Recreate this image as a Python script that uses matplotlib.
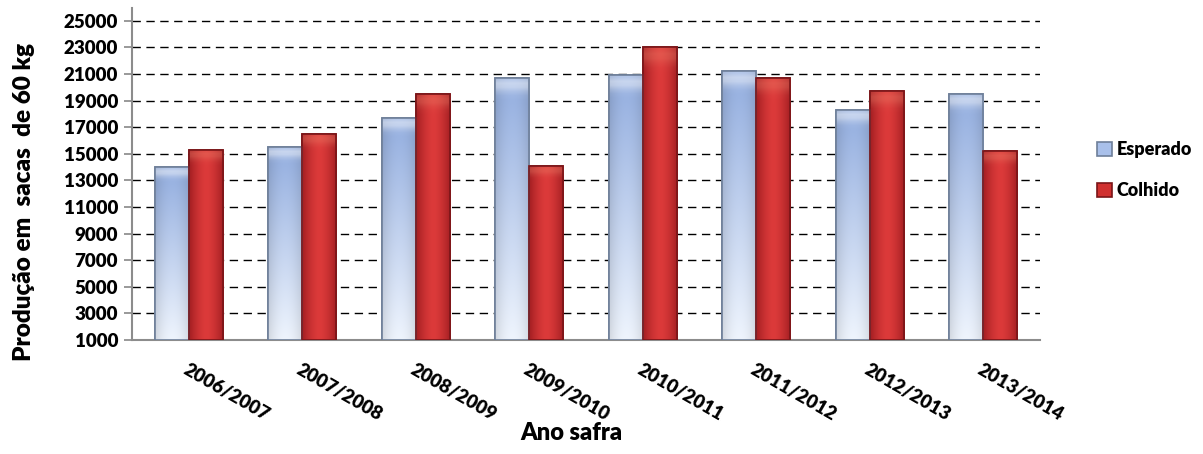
import numpy as np
import matplotlib
matplotlib.use("Agg")
import matplotlib.pyplot as plt
from matplotlib.colors import to_rgb
from matplotlib.patches import Patch

plt.rcParams['font.family'] = ['Lato', 'DejaVu Sans']
plt.rcParams['font.weight'] = 'bold'

categories = ["2006/2007", "2007/2008", "2008/2009", "2009/2010",
              "2010/2011", "2011/2012", "2012/2013", "2013/2014"]
esperado = [14000, 15500, 17700, 20700, 20900, 21200, 18300, 19500]
colhido = [15300, 16500, 19500, 14100, 23000, 20700, 19700, 15200]
yticks = list(range(1000, 25001, 2000))
series_names = ["Esperado", "Colhido"]

fig = plt.figure(figsize=(12.03, 4.54), dpi=100)
ax = fig.add_axes([0.1097, 0.251, 0.7548, 0.731])

x = np.arange(len(categories))
w = 0.30
base = 1000
b1 = ax.bar(x - w / 2, np.array(esperado) - base, w, bottom=base,
            color="#B7CAEC", edgecolor="#6E7F99", linewidth=1.2, zorder=3)
b2 = ax.bar(x + w / 2, np.array(colhido) - base, w, bottom=base,
            color="#D0302F", edgecolor="#7A1518", linewidth=1.2, zorder=3)


def gradient_img(kind, n=64):
    h = np.linspace(0, 1, n)[None, :]
    v = np.linspace(0, 1, n)[:, None]
    edge = np.abs(h - 0.5) * 2
    if kind == "blue":
        top = np.array(to_rgb("#92ADDF"))
        bot = np.array(to_rgb("#EEF4FD"))
        col = top[None, None, :] * (1 - v[..., None]) + bot[None, None, :] * v[..., None]
        dark = 1 - 0.12 * edge[..., None] ** 2
        col = col * dark
        hl = np.exp(-((v - 0.02) / 0.03) ** 2)[..., None] * 0.5
        col = col * (1 - hl) + hl
    else:
        c = np.array(to_rgb("#DC3A3A"))
        e = np.array(to_rgb("#A21E22"))
        m = edge[..., None] ** 1.6
        col = c[None, None, :] * (1 - m) + e[None, None, :] * m
        col = np.broadcast_to(col, (n, n, 3)).copy()
        hl = np.exp(-((v - 0.02) / 0.03) ** 2)[..., None] * 0.35
        hlc = np.array(to_rgb("#F08A70"))
        col = col * (1 - hl) + hlc * hl
    return np.clip(col, 0, 1)


for bars, kind in ((b1, "blue"), (b2, "red")):
    img = gradient_img(kind)
    for p in bars:
        x0, y0 = p.get_x(), p.get_y()
        ww, hh = p.get_width(), p.get_height()
        im = ax.imshow(img, extent=(x0, x0 + ww, y0, y0 + hh), aspect='auto',
                       origin='upper', zorder=3.5, interpolation='bilinear')
        im.set_clip_path(p)
        edge = plt.Rectangle((x0, y0), ww, hh, fill=False,
                             edgecolor=p.get_edgecolor(), linewidth=1.2, zorder=4)
        ax.add_patch(edge)

ax.set_xlim(-0.5, len(categories) - 0.5)
ax.set_ylim(1000, 25950)
ax.set_yticks(yticks)
ax.set_yticklabels([str(t) for t in yticks], fontsize=13.5, fontweight='heavy')
ax.yaxis.grid(True, linestyle=(0, (6, 4)), color="black", linewidth=1.0, zorder=0)
ax.set_axisbelow(True)

ax.set_xticks(x)
ax.set_xticklabels(categories, rotation=-30, ha='left', va='top',
                   rotation_mode='anchor', fontsize=13.5, fontweight='heavy')
ax.tick_params(axis='x', length=0, pad=15)
ax.tick_params(axis='y', length=6, color="#888888", width=1.2, pad=4)

for s in ("top", "right"):
    ax.spines[s].set_visible(False)
for s in ("left", "bottom"):
    ax.spines[s].set_color("#8C8C8C")
    ax.spines[s].set_linewidth(1.5)

fig.text(0.02, 0.555, "Produção em  sacas  de 60 kg", rotation=90,
         ha='center', va='center', fontsize=17.5, fontweight='heavy')
fig.text(0.475, 0.046, "Ano safra", ha='center', va='center',
         fontsize=17, fontweight='heavy')

handles = [Patch(facecolor="#A9C0EA", edgecolor="#6E7F99", linewidth=1.2),
           Patch(facecolor="#D0302F", edgecolor="#7A1518", linewidth=1.2)]
leg = fig.legend(handles, series_names, loc='center left',
                 bbox_to_anchor=(0.912, 0.625), frameon=False,
                 borderaxespad=0, borderpad=0,
                 prop={'weight': 'heavy', 'size': 13}, handlelength=0.8,
                 handleheight=0.8, handletextpad=0.3, labelspacing=1.35)

fig.savefig("out.png", dpi=100)
